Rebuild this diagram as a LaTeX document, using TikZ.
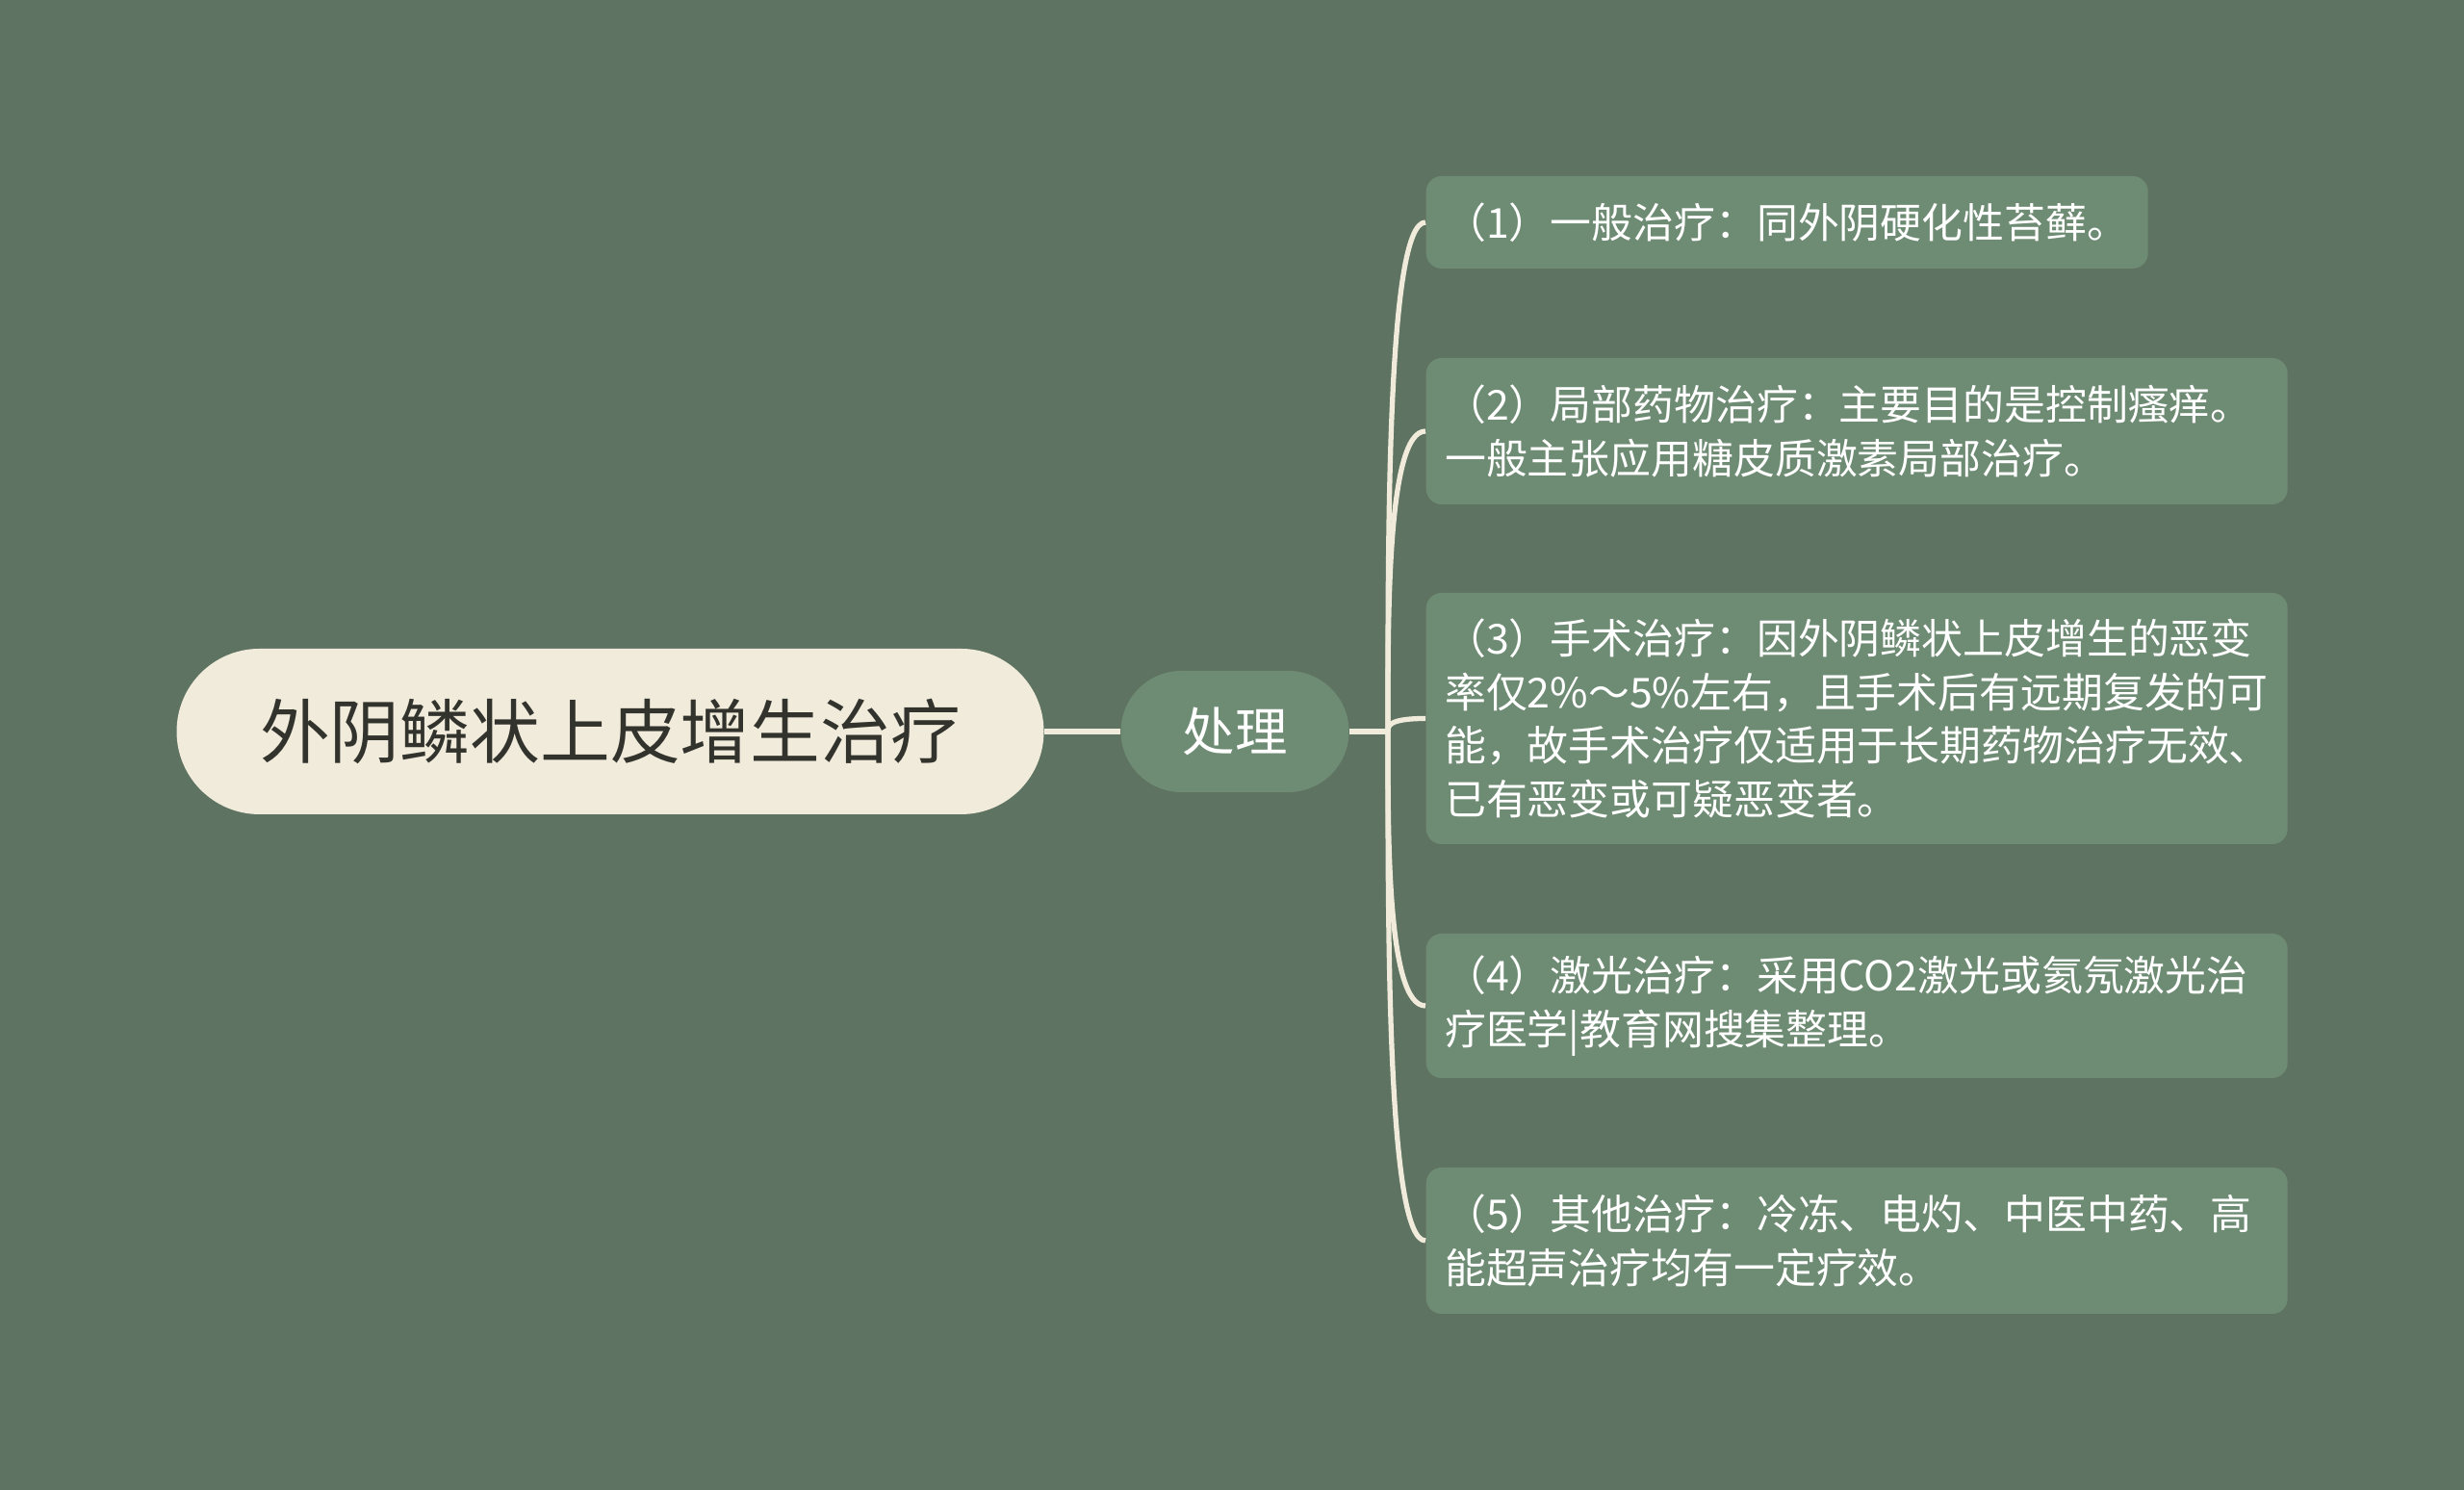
\documentclass[tikz,border=0pt]{standalone}
\usepackage{fontspec}
\setmainfont{Noto Sans CJK SC}
\usetikzlibrary{positioning}

\definecolor{bgcol}{RGB}{95,115,98}
\definecolor{leafcol}{RGB}{110,139,115}
\definecolor{creamcol}{RGB}{240,235,218}
\definecolor{inkcol}{RGB}{51,51,46}

\newcommand{\topicsize}{\fontsize{20.7pt}{24pt}\selectfont}
\newcommand{\subsize}{\fontsize{15.5pt}{18pt}\selectfont}
\newcommand{\leafsize}{\fontsize{12.2pt}{15.8pt}\selectfont}

\tikzstyle{topic}=[rectangle, fill=creamcol, text=inkcol, minimum width=9.01cm, minimum height=1.72cm, rounded corners=0.86cm, inner sep=0pt, font=\topicsize]
\tikzstyle{subtopic}=[rectangle, fill=leafcol, text=white, minimum width=2.37cm, minimum height=1.26cm, rounded corners=0.63cm, inner sep=0pt, font=\subsize]
\tikzstyle{leaf}=[rectangle, fill=leafcol, text=white, anchor=west, align=left, inner xsep=0.195cm, inner ysep=0pt, rounded corners=0.16cm, font=\leafsize]
\tikzstyle{link}=[draw, line width=1.5pt, creamcol, -]

\begin{document}
\begin{tikzpicture}
	    \fill[bgcol] (0,0) rectangle (25.6,15.48);
	    % main topic and its single child
	    \node[topic] (root) at (6.34,7.88) {外阴鳞状上皮增生治疗};
	    \node[subtopic] (deal) at (12.83,7.88) {处理};
	    \coordinate (hub) at (14.42,7.88);
	    % leaves
	    \node[leaf, text width=7.11cm, minimum height=0.96cm] (b1) at (14.81,13.17) {（1）一般治疗：同外阴硬化性苔藓。};
	    \node[leaf, text width=8.56cm, minimum height=1.52cm] (b2) at (14.81,11.00) {（2）局部药物治疗：主要目的是控制瘙痒。\\一般主张应用糖皮质激素局部治疗。};
	    \node[leaf, text width=8.56cm, minimum height=2.61cm] (b3) at (14.81,8.015) {（3）手术治疗：因外阴鳞状上皮增生的恶变\\率仅2\%～5\%左右，且手术后有远期复发的可\\能，故手术治疗仅适用于长期药物治疗无效、\\已有恶变或可疑恶变者。};
	    \node[leaf, text width=8.56cm, minimum height=1.50cm] (b4) at (14.81,5.03) {（4）激光治疗：采用CO2激光或氦氖激光治\\疗医学|教育网搜集整理。};
	    \node[leaf, text width=8.56cm, minimum height=1.52cm] (b5) at (14.81,2.59) {（5）其他治疗：冷冻、电灼、中医中药、高\\能超声治疗均有一定疗效。};
	    \path[link] (root) -- (deal);
	    \path[link] (deal.east) -- (hub);
	    \foreach \dest/\dy in {b1/2.01, b2/1.19, b3/0.05, b4/-1.08, b5/-2.01}
			\path[link] (hub) .. controls +(0,\dy) and +(-0.4,0) .. (\dest.west);
	\end{tikzpicture}
\end{document}
